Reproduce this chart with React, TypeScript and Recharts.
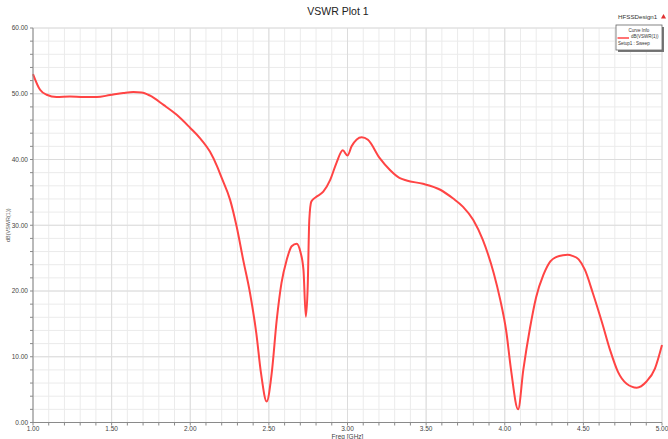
import React from 'react';
import { LineChart, Line, XAxis, YAxis, CartesianGrid, ReferenceLine } from 'recharts';

const freq = [
  1.0, 1.045, 1.087, 1.15, 1.235, 1.32, 1.405, 1.49, 1.574, 1.638, 1.69, 1.745, 1.83, 1.914, 2.0, 2.06,
  2.125, 2.17, 2.2, 2.253, 2.295, 2.337, 2.38, 2.42, 2.45, 2.486, 2.518, 2.55, 2.58, 2.613, 2.645, 2.677,
  2.7, 2.72, 2.735, 2.747, 2.757, 2.77, 2.8, 2.846, 2.89, 2.93, 2.97, 3.0, 3.026, 3.09, 3.13, 3.205, 3.27,
  3.33, 3.376, 3.48, 3.59, 3.67, 3.735, 3.8, 3.86, 3.93, 3.97, 4.01, 4.04, 4.085, 4.118, 4.16, 4.2, 4.245,
  4.29, 4.33, 4.37, 4.4, 4.43, 4.47, 4.51, 4.56, 4.62, 4.67, 4.72, 4.775, 4.84, 4.9, 4.955, 5.0,
];
const vswrDb = [
  53.0, 50.6, 49.85, 49.5, 49.6, 49.5, 49.5, 49.8, 50.1, 50.25, 50.2, 49.7, 48.3, 46.8, 44.8, 43.3,
  41.2, 39.0, 37.2, 33.9, 29.8, 24.7, 19.7, 13.6, 7.5, 3.2, 7.5, 15.6, 21.2, 24.7, 26.8, 27.2,
  26.0, 23.2, 16.1, 20.7, 30.8, 33.6, 34.3, 35.1, 36.9, 39.5, 41.4, 40.6, 42.0, 43.4, 43.0, 40.2, 38.4,
  37.2, 36.8, 36.3, 35.4, 34.1, 32.8, 30.8, 27.8, 22.7, 18.8, 13.8, 8.0, 2.0, 8.0, 14.3, 19.1, 22.4,
  24.5, 25.2, 25.45, 25.5, 25.35, 24.8, 23.2, 19.7, 15.1, 11.0, 7.7, 5.9, 5.3, 6.2, 8.2, 11.8,
];

const xTicks = [
  1.0, 1.1, 1.2, 1.3, 1.4, 1.5, 1.6, 1.7, 1.8, 1.9, 2.0, 2.1, 2.2, 2.3, 2.4, 2.5, 2.6, 2.7, 2.8, 2.9, 3.0,
  3.1, 3.2, 3.3, 3.4, 3.5, 3.6, 3.7, 3.8, 3.9, 4.0, 4.1, 4.2, 4.3, 4.4, 4.5, 4.6, 4.7, 4.8, 4.9, 5.0,
];
const xMajor = [1.0, 1.5, 2.0, 2.5, 3.0, 3.5, 4.0, 4.5, 5.0];
const yTicks = [
  0, 2, 4, 6, 8, 10, 12, 14, 16, 18, 20, 22, 24, 26, 28, 30, 32, 34, 36, 38, 40, 42, 44, 46, 48, 50, 52,
  54, 56, 58, 60,
];
const yMajor = [0, 10, 20, 30, 40, 50, 60];

const title = 'VSWR Plot 1';
const designName = 'HFSSDesign1';
const legendTitle = 'Curve Info';
const seriesName = 'dB(VSWR(1))';
const setupName = 'Setup1 : Sweep';
const xLabel = 'Freq [GHz]';

const data = freq.map((f, i) => ({ freq: f, v: vswrDb[i] }));

const isMajor = (list: number[], v: number) => list.some((m) => Math.abs(m - v) < 1e-6);

export default function App() {
  return (
    <div style={{ position: 'absolute', left: 0, top: 0, width: 668, height: 439, background: '#fff', fontFamily: '"Liberation Sans", Arial, sans-serif' }}>
      <LineChart width={668} height={439} data={data} margin={{ top: 28, right: 6, bottom: 0, left: 0 }}>
        <CartesianGrid stroke="#ebebeb" strokeWidth={1} />
        {xMajor.map((m) => (
          <ReferenceLine key={'x' + m} x={m} stroke="#dcdcdc" strokeWidth={1} />
        ))}
        {yMajor.map((m) => (
          <ReferenceLine key={'y' + m} y={m} stroke="#dcdcdc" strokeWidth={1} />
        ))}
        <XAxis
          type="number"
          dataKey="freq"
          domain={[1, 5]}
          ticks={xTicks}
          interval={0}
          height={16.5}
          tickSize={3}
          tickMargin={1}
          stroke="#8a8a8a"
          tick={{ fontSize: 6.5, fill: '#444' }}
          tickFormatter={(v: number) => (isMajor(xMajor, v) ? v.toFixed(2) : '')}
          label={{ value: xLabel, position: 'insideBottom', offset: 0, fontSize: 6.5, fill: '#444' }}
        />
        <YAxis
          type="number"
          domain={[0, 60]}
          ticks={yTicks}
          interval={0}
          width={33}
          tickSize={3}
          tickMargin={2}
          stroke="#8a8a8a"
          tick={{ fontSize: 6.5, fill: '#444' }}
          tickFormatter={(v: number) => (isMajor(yMajor, v) ? v.toFixed(2) : '')}
          label={{ value: seriesName, angle: -90, position: 'insideLeft', offset: 8, fontSize: 5.5, fill: '#555', style: { textAnchor: 'middle' } }}
        />
        <Line
          type="monotone"
          dataKey="v"
          stroke="#ff4444"
          strokeWidth={2}
          dot={false}
          isAnimationActive={false}
        />
      </LineChart>
      <svg width={668} height={439} style={{ position: 'absolute', left: 0, top: 0, pointerEvents: 'none' }}>
        <text x={338} y={15} textAnchor="middle" fontSize={10.5} fill="#222" fontFamily='"Liberation Sans", Arial, sans-serif'>
          {title}
        </text>
        <text x={618} y={19} fontSize={6.2} fill="#333" fontFamily='"Liberation Sans", Arial, sans-serif'>
          {designName}
        </text>
        <path d="M 661 18.5 L 663.5 14 L 666 18.5 Z" fill="#e03030" />
        <rect x={618} y={27} width={46} height={25} fill="#777" />
        <rect x={616} y={25} width={46} height={25} fill="#fff" stroke="#666" strokeWidth={0.8} />
        <text x={639} y={31.5} textAnchor="middle" fontSize={4.5} fill="#333">{legendTitle}</text>
        <line x1={617.5} y1={38} x2={629} y2={38} stroke="#ff4444" strokeWidth={1.5} />
        <text x={631} y={38} fontSize={4.5} fill="#333">{seriesName}</text>
        <text x={618} y={45} fontSize={4.5} fill="#333">{setupName}</text>
      </svg>
    </div>
  );
}
